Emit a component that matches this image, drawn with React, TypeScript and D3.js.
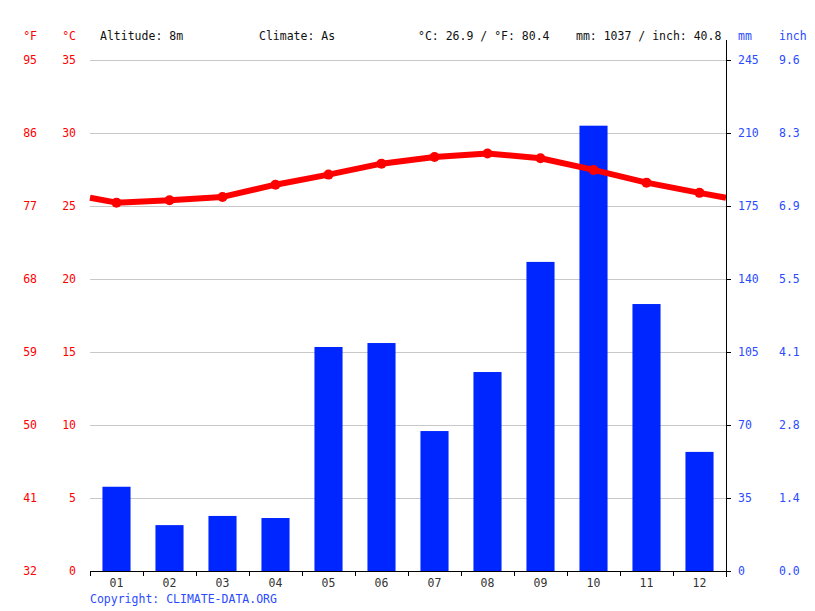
import React, { useEffect, useRef } from "react";
import * as d3 from "d3";

const months = ["01", "02", "03", "04", "05", "06", "07", "08", "09", "10", "11", "12"];
const precipitationMm = [40.4, 22.0, 26.4, 25.4, 107.4, 109.3, 67.1, 95.4, 148.2, 213.5, 128.0, 57.1];
const temperatureC = [25.23, 25.39, 25.62, 26.46, 27.15, 27.9, 28.36, 28.6, 28.27, 27.47, 26.6, 25.9];
const celsiusTicks = [0, 5, 10, 15, 20, 25, 30, 35];
const fahrenheitLabels = ["32", "41", "50", "59", "68", "77", "86", "95"];
const mmTicks = [0, 35, 70, 105, 140, 175, 210, 245];
const inchLabels = ["0.0", "1.4", "2.8", "4.1", "5.5", "6.9", "8.3", "9.6"];
const headerTexts = [
  { text: "Altitude: 8m", x: 100 },
  { text: "Climate: As", x: 259 },
  { text: "°C: 26.9 / °F: 80.4", x: 418 },
  { text: "mm: 1037 / inch: 40.8", x: 576 },
];

const W = 815;
const H = 611;
const left = 90;
const right = 726;
const top = 60;
const bottom = 571;
const RED = "#ff0000";
const BLUE = "#0026ff";
const BLUE_TEXT = "#2a4bff";
const FONT = "'DejaVu Sans Mono', monospace";

export default function App() {
  const ref = useRef<SVGSVGElement>(null);

  useEffect(() => {
    const svg = d3.select(ref.current);
    svg.selectAll("*").remove();

    const x = d3.scaleBand<string>().domain(months).range([left, right]).paddingInner(0.47).paddingOuter(0.235);
    const xb = d3.scaleBand<string>().domain(months).range([left, right]);
    const yT = d3.scaleLinear().domain([0, 35]).range([bottom, top]);
    const yP = d3.scaleLinear().domain([0, 245]).range([bottom, top]);

    // grid lines
    svg.append("g")
      .selectAll("line")
      .data(celsiusTicks.slice(1))
      .join("line")
      .attr("x1", left)
      .attr("x2", right)
      .attr("y1", (d) => yT(d) + 0.5)
      .attr("y2", (d) => yT(d) + 0.5)
      .attr("stroke", "#c8c8c8")
      .attr("stroke-width", 1);

    // bars
    svg.append("g")
      .selectAll("rect")
      .data(precipitationMm)
      .join("rect")
      .attr("x", (_, i) => x(months[i])!)
      .attr("width", x.bandwidth())
      .attr("y", (d) => yP(d))
      .attr("height", (d) => yP(0) - yP(d))
      .attr("fill", BLUE);

    // temperature line (wrap edges)
    const bw = xb.bandwidth();
    const edge = (temperatureC[0] + temperatureC[11]) / 2;
    const pts: [number, number][] = [[left, yT(edge)]];
    temperatureC.forEach((t, i) => pts.push([xb(months[i])! + bw / 2, yT(t)]));
    pts.push([right, yT(edge)]);
    svg.append("path")
      .attr("d", d3.line()(pts))
      .attr("fill", "none")
      .attr("stroke", RED)
      .attr("stroke-width", 6)
      .attr("stroke-linejoin", "round");
    svg.append("g")
      .selectAll("circle")
      .data(temperatureC)
      .join("circle")
      .attr("cx", (_, i) => xb(months[i])! + bw / 2)
      .attr("cy", (d) => yT(d))
      .attr("r", 5)
      .attr("fill", RED);

    // bottom axis
    const bx = svg.append("g").attr("transform", `translate(0,${bottom})`);
    bx.append("line").attr("x1", left).attr("x2", right).attr("y1", 0.5).attr("y2", 0.5).attr("stroke", "#000");
    const edges = months.map((m) => xb(m)!).concat([right]);
    bx.selectAll("line.t")
      .data(edges)
      .join("line")
      .attr("class", "t")
      .attr("x1", (d) => d + 0.5)
      .attr("x2", (d) => d + 0.5)
      .attr("y1", 0)
      .attr("y2", 5)
      .attr("stroke", "#000");
    bx.selectAll("text")
      .data(months)
      .join("text")
      .attr("x", (d) => xb(d)! + bw / 2)
      .attr("y", 16)
      .attr("text-anchor", "middle")
      .attr("font-family", FONT)
      .attr("font-size", 11.5)
      .attr("fill", "#333")
      .text((d) => d);

    // right axis
    svg.append("line")
      .attr("x1", right + 0.5)
      .attr("x2", right + 0.5)
      .attr("y1", 40)
      .attr("y2", bottom + 6)
      .attr("stroke", "#000");
    svg.append("g")
      .selectAll("line")
      .data(mmTicks)
      .join("line")
      .attr("x1", right)
      .attr("x2", right + 5)
      .attr("y1", (d) => yP(d) + 0.5)
      .attr("y2", (d) => yP(d) + 0.5)
      .attr("stroke", "#000");

    const label = (
      data: string[],
      xPos: number,
      anchor: string,
      color: string,
      yFn: (i: number) => number
    ) =>
      svg.append("g")
        .selectAll("text")
        .data(data)
        .join("text")
        .attr("x", xPos)
        .attr("y", (_, i) => yFn(i))
        .attr("dy", "0.35em")
        .attr("text-anchor", anchor)
        .attr("font-family", FONT)
        .attr("font-size", 11.5)
        .attr("fill", color)
        .text((d) => d);

    label(fahrenheitLabels, 37, "end", RED, (i) => yT(celsiusTicks[i]));
    label(celsiusTicks.map(String), 76, "end", RED, (i) => yT(celsiusTicks[i]));
    label(mmTicks.map(String), 738, "start", BLUE_TEXT, (i) => yP(mmTicks[i]));
    label(inchLabels, 779, "start", BLUE_TEXT, (i) => yP(mmTicks[i]));

    // header
    const hdr = (t: string, xx: number, anchor: string, color: string) =>
      svg.append("text")
        .attr("x", xx)
        .attr("y", 40)
        .attr("text-anchor", anchor)
        .attr("font-family", FONT)
        .attr("font-size", 11.5)
        .attr("fill", color)
        .text(t);
    hdr("°F", 37, "end", RED);
    hdr("°C", 76, "end", RED);
    hdr("mm", 738, "start", BLUE_TEXT);
    hdr("inch", 779, "start", BLUE_TEXT);
    headerTexts.forEach((h) => hdr(h.text, h.x, "start", "#111"));

    svg.append("text")
      .attr("x", 90)
      .attr("y", 603)
      .attr("font-family", FONT)
      .attr("font-size", 11.5)
      .attr("fill", BLUE_TEXT)
      .text("Copyright: CLIMATE-DATA.ORG");
  }, []);

  return (
    <svg
      ref={ref}
      width={W}
      height={H}
      style={{ position: "absolute", left: 0, top: 0, background: "#fff" }}
    />
  );
}
